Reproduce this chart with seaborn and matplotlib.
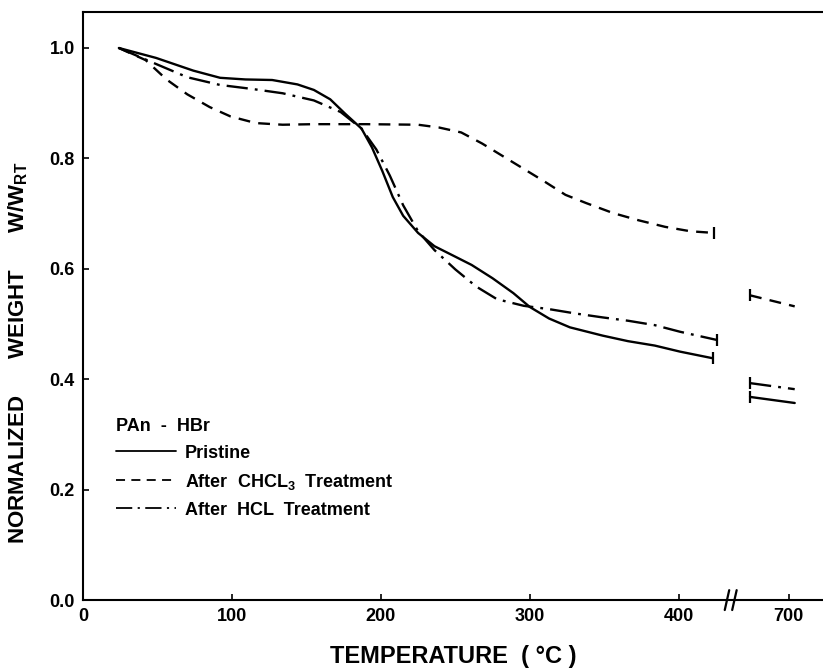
import matplotlib
matplotlib.use("Agg")
import matplotlib.pyplot as plt
import seaborn as sns
import pandas as pd

# ---------------- data ----------------
pristine_T = [24, 49, 74, 92, 109, 127, 144, 155, 166, 176, 187, 194, 201, 208, 215,
              225, 236, 250, 261, 275, 289, 300, 313, 327, 349, 366, 384, 401, 423]
pristine_W = [1.000, 0.982, 0.959, 0.946, 0.943, 0.942, 0.934, 0.924, 0.907, 0.881,
              0.854, 0.820, 0.777, 0.730, 0.696, 0.665, 0.641, 0.622, 0.607, 0.583,
              0.556, 0.531, 0.510, 0.494, 0.479, 0.469, 0.461, 0.450, 0.438]

chcl3_T = [24, 42, 56, 70, 85, 99, 116, 134, 155, 190, 225, 239, 254, 268, 282, 296,
           310, 324, 338, 356, 373, 391, 408, 424]
chcl3_W = [1.000, 0.978, 0.943, 0.916, 0.893, 0.876, 0.864, 0.861, 0.862, 0.862,
           0.861, 0.856, 0.847, 0.827, 0.804, 0.781, 0.758, 0.734, 0.719, 0.701,
           0.688, 0.676, 0.668, 0.665]

hcl_T = [24, 49, 70, 92, 113, 134, 155, 173, 187, 197, 206, 215, 225, 236, 250, 264,
         278, 296, 313, 331, 349, 366, 384, 401, 426]
hcl_W = [1.000, 0.971, 0.947, 0.933, 0.926, 0.918, 0.905, 0.884, 0.854, 0.816,
         0.769, 0.715, 0.668, 0.634, 0.599, 0.568, 0.545, 0.533, 0.527, 0.519,
         0.512, 0.506, 0.498, 0.486, 0.471]

# segments after the axis break (around 700 C)
late_T = [674, 704]
pristine_late_W = [0.368, 0.357]
chcl3_late_W = [0.552, 0.532]
hcl_late_W = [0.393, 0.382]

series_names = ["Pristine", "After  CHCL$_3$  Treatment", "After  HCL  Treatment"]
x_ticks = [0, 100, 200, 300, 400, 700]
y_ticks = [0.0, 0.2, 0.4, 0.6, 0.8, 1.0]

# ---------------- layout / style ----------------
BREAK_OFFSET = 226          # 700 C is drawn at 474 on the continuous axis
BREAK_AT = 435

def axpos(t):
    return t - BREAK_OFFSET if t >= 600 else t

sns.set_theme(style="white")
plt.rcParams["font.family"] = ["Liberation Sans", "DejaVu Sans"]
plt.rcParams["font.weight"] = "bold"
plt.rcParams["text.color"] = "black"
plt.rcParams["axes.labelcolor"] = "black"
plt.rcParams["axes.labelweight"] = "bold"
plt.rcParams["mathtext.fontset"] = "custom"
plt.rcParams["mathtext.rm"] = "Liberation Sans:bold"
plt.rcParams["mathtext.it"] = "Liberation Sans:bold"

fig = plt.figure(figsize=(8.23, 6.72), dpi=100)
ax = fig.add_axes([0.101, 0.107, 0.899, 0.875])

styles = [
    dict(linestyle="-"),
    dict(linestyle=(0, (5, 3.5))),
    dict(linestyle=(0, (9, 3, 1.2, 3))),
]
main = [(pristine_T, pristine_W), (chcl3_T, chcl3_W), (hcl_T, hcl_W)]
late = [pristine_late_W, chcl3_late_W, hcl_late_W]

for (T, W), lw_late, name, st in zip(main, late, series_names, styles):
    df = pd.DataFrame({"T": T, "W": W})
    sns.lineplot(data=df, x="T", y="W", ax=ax, color="black", lw=1.7,
                 label=name, **st)
    ax.plot([T[-1]], [W[-1]], marker="|", ms=9, mew=1.6, color="black")
    dfl = pd.DataFrame({"T": [axpos(t) for t in late_T], "W": lw_late})
    sns.lineplot(data=dfl, x="T", y="W", ax=ax, color="black", lw=1.7,
                 legend=False, **st)
    ax.plot([axpos(late_T[0])], [lw_late[0]], marker="|", ms=9, mew=1.6, color="black")

ax.set_xlim(0, 497)
ax.set_ylim(0, 1.065)
ax.set_xticks([axpos(t) for t in x_ticks])
ax.set_xticklabels([str(t) for t in x_ticks])
ax.set_yticks(y_ticks)
ax.set_yticklabels([f"{v:.1f}" for v in y_ticks])
ax.tick_params(direction="in", length=4, width=1.2, labelsize=13, pad=6,
               colors="black", labelcolor="black")
ax.tick_params(axis="x", bottom=True)
ax.tick_params(axis="y", left=True)

for s in ["left", "bottom", "top"]:
    ax.spines[s].set_visible(True)
    ax.spines[s].set_color("black")
    ax.spines[s].set_linewidth(1.5)
ax.spines["right"].set_visible(False)

# axis break marks
for dx in (-2.5, 2.5):
    ax.plot([BREAK_AT + dx - 1.5, BREAK_AT + dx + 1.5], [-0.018, 0.018],
            color="black", lw=1.6, clip_on=False)

ax.set_xlabel("TEMPERATURE  ( °C )", fontsize=17, labelpad=14, color="black")
ax.set_ylabel("NORMALIZED      WEIGHT      W/W$_{\\mathrm{RT}}$", fontsize=16,
              color="black")
ax.yaxis.set_label_coords(-0.072, 0.42)

leg = ax.legend(title="PAn  -  HBr", loc="upper left", bbox_to_anchor=(0.045, 0.31),
                frameon=False, alignment="left", handlelength=3.3, handletextpad=0.5,
                borderpad=0, borderaxespad=0, labelspacing=0.55,
                prop={"size": 13, "weight": "bold"}, title_fontsize=13)
leg.get_title().set_color("black")
leg.get_title().set_fontweight("bold")
for t in leg.get_texts():
    t.set_color("black")
for h in leg.get_lines():
    h.set_linewidth(1.3)

fig.savefig("out.png", dpi=100)
